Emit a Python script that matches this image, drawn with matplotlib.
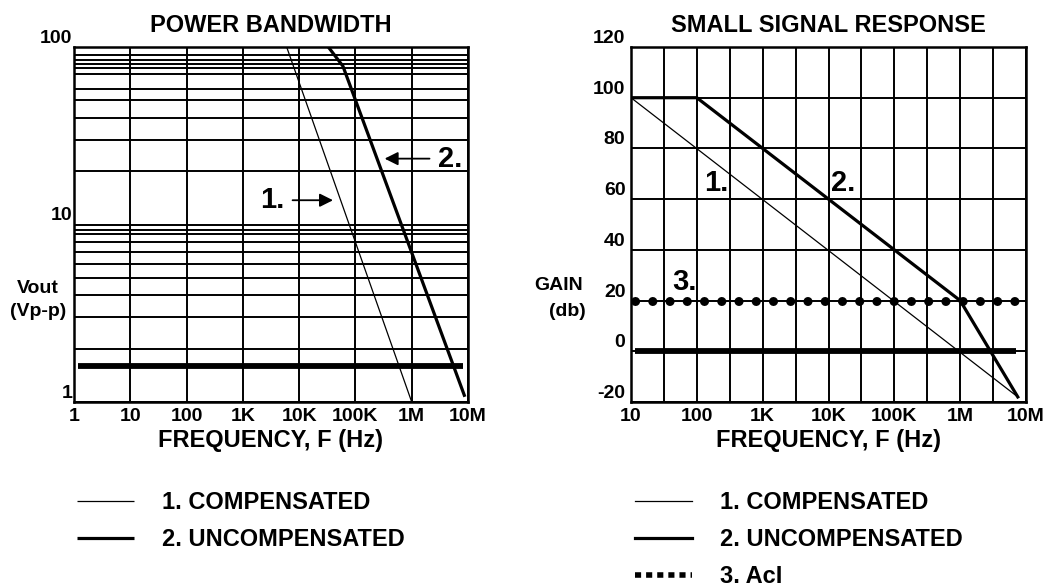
import matplotlib

matplotlib.use("Agg")
import matplotlib.pyplot as plt
from matplotlib.lines import Line2D
from matplotlib.ticker import FixedLocator, NullLocator

plt.rcParams["font.family"] = ["Liberation Sans", "DejaVu Sans"]
plt.rcParams["font.weight"] = "bold"

# ---- power bandwidth (left) ----
pb_xticks = [1, 10, 100, 1e3, 1e4, 1e5, 1e6, 1e7]
pb_xlabels = ["1", "10", "100", "1K", "10K", "100K", "1M", "10M"]
pb_yticks = [1, 10, 100]
pb_ylabels = ["1", "10", "100"]
pb_minor_y = [2, 3, 4, 5, 6, 7, 8, 8.8, 9.3, 20, 30, 40, 50, 58, 70, 76, 80, 85, 90]

pb_comp_f = [6.0e3, 1.0e6]
pb_comp_v = [100, 1]
pb_uncomp_f = [3.3e4, 6.0e4, 8.8e6]
pb_uncomp_v = [100, 78, 1.07]
pb_ref_f = [1.2, 8.1e6]
pb_ref_v = [1.6, 1.6]

# ---- small signal response (right) ----
ss_xticks = [10, 100, 1e3, 1e4, 1e5, 1e6, 1e7]
ss_xlabels = ["10", "100", "1K", "10K", "100K", "1M", "10M"]
ss_minor_x = [31.6, 316, 3.16e3, 3.16e4, 3.16e5, 3.16e6]
ss_yticks = [-20, 0, 20, 40, 60, 80, 100, 120]

ss_comp_f = [10, 7.5e6]
ss_comp_g = [100, -18]
ss_uncomp_f = [10, 100, 1e6, 7.5e6]
ss_uncomp_g = [100, 100, 20, -18]
ss_acl_f = [11.5, 6.9e6]
ss_acl_g = [20, 20]
ss_unity_f = [11.5, 7.0e6]
ss_unity_g = [0, 0]

W, H = 1064, 588
fig = plt.figure(figsize=(W / 100, H / 100), dpi=100)
ax1 = fig.add_axes([74 / W, 1 - 402 / H, 394 / W, 355 / H])
ax2 = fig.add_axes([631 / W, 1 - 402 / H, 395 / W, 355 / H])

TICK_FS = 14
BIG_FS = 17
NUM_FS = 21

for ax in (ax1, ax2):
    for s in ax.spines.values():
        s.set_linewidth(1.8)
    ax.tick_params(which="both", length=0, labelsize=TICK_FS)
    ax.grid(True, which="both", color="black", linewidth=1.4)
    ax.set_axisbelow(True)

# left panel
ax1.set_xscale("log")
ax1.set_yscale("log")
ax1.set_xlim(1, 1e7)
ax1.set_ylim(1, 100)
ax1.set_xticks(pb_xticks)
ax1.set_xticklabels(pb_xlabels, fontweight="bold")
ax1.xaxis.set_minor_locator(NullLocator())
ax1.set_yticks(pb_yticks)
ax1.set_yticklabels(pb_ylabels, fontweight="bold", va="bottom")
ax1.yaxis.set_minor_locator(FixedLocator(pb_minor_y))
ax1.yaxis.set_minor_formatter(plt.NullFormatter())
ax1.tick_params(axis="x", pad=4)
ax1.tick_params(axis="y", pad=1)

l1, = ax1.plot(pb_comp_f, pb_comp_v, color="black", lw=0.9, solid_capstyle="butt")
l2, = ax1.plot(pb_uncomp_f, pb_uncomp_v, color="black", lw=2.3, solid_capstyle="butt")
ax1.plot(pb_ref_f, pb_ref_v, color="black", lw=4.2, solid_capstyle="butt")

arrow = dict(arrowstyle="-|>", color="black", lw=1.3, mutation_scale=20, shrinkA=4, shrinkB=0)
ax1.annotate("2.", xy=(3.3e5, 23.5), xytext=(4.8e6, 23.5), fontsize=NUM_FS, fontweight="bold",
             ha="center", va="center", arrowprops=arrow)
ax1.annotate("1.", xy=(4.0e4, 13.7), xytext=(3.3e3, 13.7), fontsize=NUM_FS, fontweight="bold",
             ha="center", va="center", arrowprops=arrow)

ax1.set_title("POWER BANDWIDTH", fontsize=BIG_FS, fontweight="bold", pad=11)
ax1.set_xlabel("FREQUENCY, F (Hz)", fontsize=BIG_FS, fontweight="bold", labelpad=3)
ax1.text(-0.091, 0.287, "Vout\n(Vp-p)", transform=ax1.transAxes, fontsize=TICK_FS,
         fontweight="bold", ha="center", va="center", multialignment="center",
         linespacing=1.5)

# right panel
ax2.set_xscale("log")
ax2.set_xlim(10, 1e7)
ax2.set_ylim(-20, 120)
ax2.set_xticks(ss_xticks)
ax2.set_xticklabels(ss_xlabels, fontweight="bold")
ax2.xaxis.set_minor_locator(FixedLocator(ss_minor_x))
ax2.xaxis.set_minor_formatter(plt.NullFormatter())
ax2.set_yticks(ss_yticks)
ax2.set_yticklabels([str(v) for v in ss_yticks], fontweight="bold", va="bottom")
ax2.tick_params(axis="x", pad=4)
ax2.tick_params(axis="y", pad=4)

m1, = ax2.plot(ss_comp_f, ss_comp_g, color="black", lw=0.9)
m2, = ax2.plot(ss_uncomp_f, ss_uncomp_g, color="black", lw=2.3)
ax2.plot(ss_acl_f, ss_acl_g, color="black", lw=6.5, linestyle=(0, (0.01, 1.9)),
         dash_capstyle="round")
ax2.plot(ss_unity_f, ss_unity_g, color="black", lw=4.2, solid_capstyle="butt")
m3 = Line2D([], [], color="black", lw=4, linestyle=(0, (1.1, 0.9)))

ax2.text(198, 66.4, "1.", fontsize=NUM_FS, fontweight="bold", ha="center", va="center")
ax2.text(1.7e4, 66.4, "2.", fontsize=NUM_FS, fontweight="bold", ha="center", va="center")
ax2.text(65, 27.3, "3.", fontsize=NUM_FS, fontweight="bold", ha="center", va="center")

ax2.set_title("SMALL SIGNAL RESPONSE", fontsize=BIG_FS, fontweight="bold", pad=11)
ax2.set_xlabel("FREQUENCY, F (Hz)", fontsize=BIG_FS, fontweight="bold", labelpad=3)
ax2.text(-0.182, 0.327, "GAIN", transform=ax2.transAxes, fontsize=TICK_FS,
         fontweight="bold", ha="center", va="center")
ax2.text(-0.162, 0.256, "(db)", transform=ax2.transAxes, fontsize=TICK_FS,
         fontweight="bold", ha="center", va="center")

# legends
leg_kw = dict(loc="upper left", frameon=False, fontsize=BIG_FS, handlelength=2.4,
              handletextpad=1.2, labelspacing=0.6, borderpad=0, borderaxespad=0)
leg1 = fig.legend([l1, l2], ["1. COMPENSATED", "2. UNCOMPENSATED"],
                  bbox_to_anchor=(77 / W, 1 - 491 / H), **leg_kw)
leg2 = fig.legend([m1, m2, m3], ["1. COMPENSATED", "2. UNCOMPENSATED", "3. AcI"],
                  bbox_to_anchor=(635 / W, 1 - 491 / H), **leg_kw)
for leg in (leg1, leg2):
    for t in leg.get_texts():
        t.set_fontweight("bold")

fig.savefig("out.png", dpi=100)
